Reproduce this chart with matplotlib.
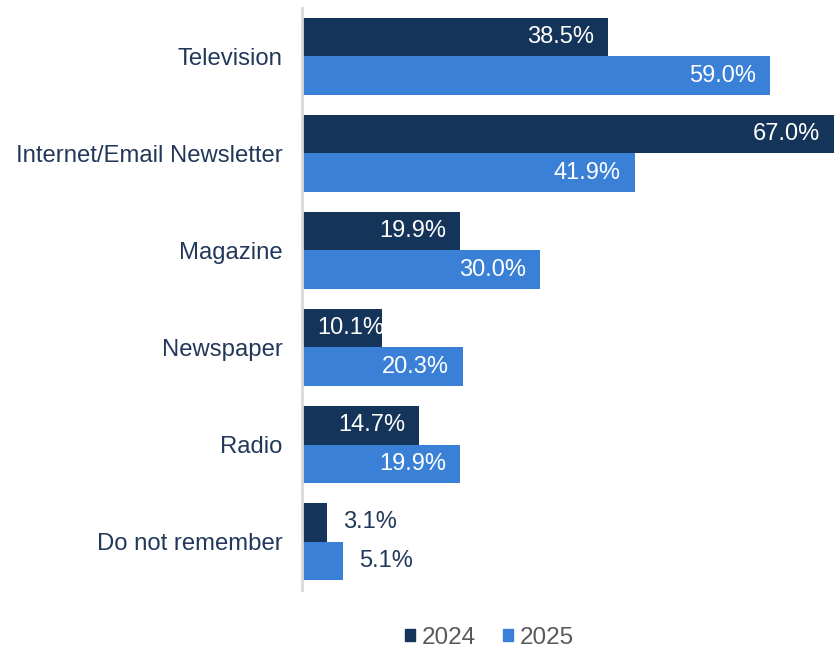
import matplotlib
import matplotlib.pyplot as plt
from matplotlib.patches import Patch

plt.rcParams["font.family"] = ["Liberation Sans", "DejaVu Sans"]

# data
categories = ["Television", "Internet/Email Newsletter", "Magazine",
              "Newspaper", "Radio", "Do not remember"]
years = ["2024", "2025"]
values_2024 = [38.5, 67.0, 19.9, 10.1, 14.7, 3.1]
values_2025 = [59.0, 41.9, 30.0, 20.3, 19.9, 5.1]

DARK = "#15345a"
LIGHT = "#3a80d6"
TEXT = "#22385a"

fig = plt.figure(figsize=(8.37, 6.52), dpi=100)
ax = fig.add_axes([0.361, 0.095, 0.637, 0.893])

h = 0.395
y = list(range(len(categories)))
b1 = ax.barh([i - h / 2 for i in y], values_2024, height=h, color=DARK, label=years[0])
b2 = ax.barh([i + h / 2 for i in y], values_2025, height=h, color=LIGHT, label=years[1])

# value labels: inside the bar end, outside for short bars,
# anchored at the bar start when the bar is only just long enough
for bars, vals in ((b1, values_2024), (b2, values_2025)):
    for bar, v in zip(bars, vals):
        yc = bar.get_y() + bar.get_height() / 2
        label = f"{v:.1f}%"
        if v >= 12:
            ax.annotate(label, (v, yc), xytext=(-10, 0), textcoords="offset points",
                        ha="right", va="center", color="white", fontsize=17)
        elif v >= 8:
            t = ax.annotate(label, (0, yc), xytext=(11, 0), textcoords="offset points",
                            ha="left", va="center", color="white", fontsize=17)
            t.set_clip_path(bar)
        else:
            ax.annotate(label, (v, yc), xytext=(12, 0), textcoords="offset points",
                        ha="left", va="center", color=TEXT, fontsize=17)

ax.set_xlim(0, 67.2)
ax.set_ylim(len(categories) - 0.5, -0.5)
ax.set_yticks(y)
ax.set_yticklabels(categories, fontsize=17.2, color=TEXT)
ax.tick_params(axis="y", length=0, pad=14)
ax.set_xticks([])
for s in ["top", "right", "bottom"]:
    ax.spines[s].set_visible(False)
ax.spines["left"].set_color("#d9d9d9")
ax.spines["left"].set_linewidth(2)

handles = [Patch(color=DARK, label=years[0]), Patch(color=LIGHT, label=years[1])]
fig.legend(handles=handles, loc="center", bbox_to_anchor=(0.585, 0.022), ncol=2,
           frameon=False, fontsize=17.5, labelcolor="#595959",
           handlelength=0.4, handleheight=0.4, handletextpad=0.3, columnspacing=1.1)

fig.savefig("out.png", dpi=100)
